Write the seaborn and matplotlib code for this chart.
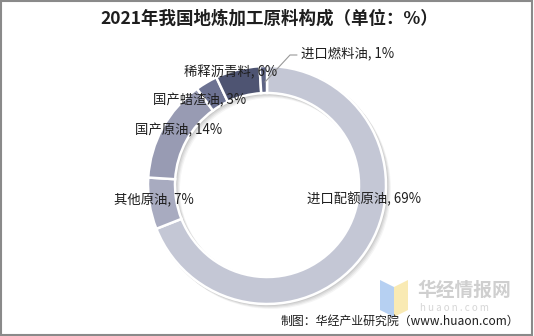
import matplotlib
matplotlib.use("Agg")
import matplotlib.pyplot as plt
from matplotlib.patches import Rectangle, Wedge, Polygon
import seaborn as sns

# Feedstock composition of independent refineries, 2021 (%)
categories = ["进口配额原油", "其他原油", "国产原油", "国产蜡渣油", "稀释沥青料", "进口燃料油"]
shares = [69, 7, 14, 3, 6, 1]
colors = ["#c4c7d5", "#a8abc0", "#989bb3", "#6c7292", "#4e5472", "#5d6384"]

title = "2021年我国地炼加工原料构成（单位：%）"
source = "制图：华经产业研究院（www.huaon.com）"

sns.set_theme(style="white")
plt.rcParams["font.family"] = ["Noto Sans CJK SC", "DejaVu Sans"]

W, H = 534, 336
fig = plt.figure(figsize=(W / 100, H / 100), dpi=100)
ax = fig.add_axes([0, 0, 1, 1])

cx, cy = 267, H - 185
R, ring = 119, 27

# soft drop shadow under the ring
for i, a in enumerate([0.04, 0.05, 0.06, 0.07]):
    off = 4 - i
    ax.add_patch(Wedge((cx + off, cy - off), R + 1, 0, 360, width=ring + 2,
                       facecolor="#000000", edgecolor="none", alpha=a, zorder=1))

wedges, _ = ax.pie(shares, colors=colors, startangle=90, counterclock=False,
                   center=(cx, cy), radius=R, frame=True,
                   wedgeprops=dict(width=ring, edgecolor="white", linewidth=1.8))
for w in wedges:
    w.set_zorder(2)
ax.set_xlim(0, W)
ax.set_ylim(0, H)
ax.set_aspect("equal")
ax.axis("off")

# slice labels
label_pos = {
    "进口配额原油": (307, 199),
    "其他原油": (114, 199),
    "国产原油": (135, 130),
    "国产蜡渣油": (153, 100),
    "稀释沥青料": (184, 72),
    "进口燃料油": (301, 53),
}
for name, val in zip(categories, shares):
    x, y = label_pos[name]
    ax.text(x, H - y, f"{name}, {val}%", fontsize=9.6, color="#1e1e1e",
            ha="left", va="center", zorder=5)

# leader line for the smallest slice
ax.plot([265, 290, 297], [H - 82, H - 55, H - 55], color="#999999", lw=0.8, zorder=4)

ax.text(W / 2 + 2, H - 19, title, fontsize=12.6, fontweight="bold", color="#1e1e1e",
        ha="center", va="center", zorder=5)

# watermark
ax.add_patch(Polygon([(380, H - 280), (394, H - 287), (394, H - 317), (380, H - 310)],
                     facecolor="#a9c8f0", edgecolor="none", alpha=0.85, zorder=3))
ax.add_patch(Polygon([(394, H - 287), (408, H - 280), (408, H - 310), (394, H - 317)],
                     facecolor="#f8e7a6", edgecolor="none", alpha=0.85, zorder=3))
ax.text(417, H - 290, "华经情报网", fontsize=13.5, fontweight="bold", color="#cfcfcf",
        ha="left", va="center", zorder=3)
ax.text(420, H - 308, "h u a o n . c o m", fontsize=7, color="#d6d6d6",
        ha="left", va="center", zorder=3)

ax.text(519, H - 321, source, fontsize=8.6, color="#1e1e1e", ha="right", va="center", zorder=5)

fig.patches.append(Rectangle((0.002, 0.003), 0.995, 0.994, transform=fig.transFigure,
                             fill=False, edgecolor="#8a8a8a", linewidth=1.5))

fig.savefig("out.png", dpi=100)
